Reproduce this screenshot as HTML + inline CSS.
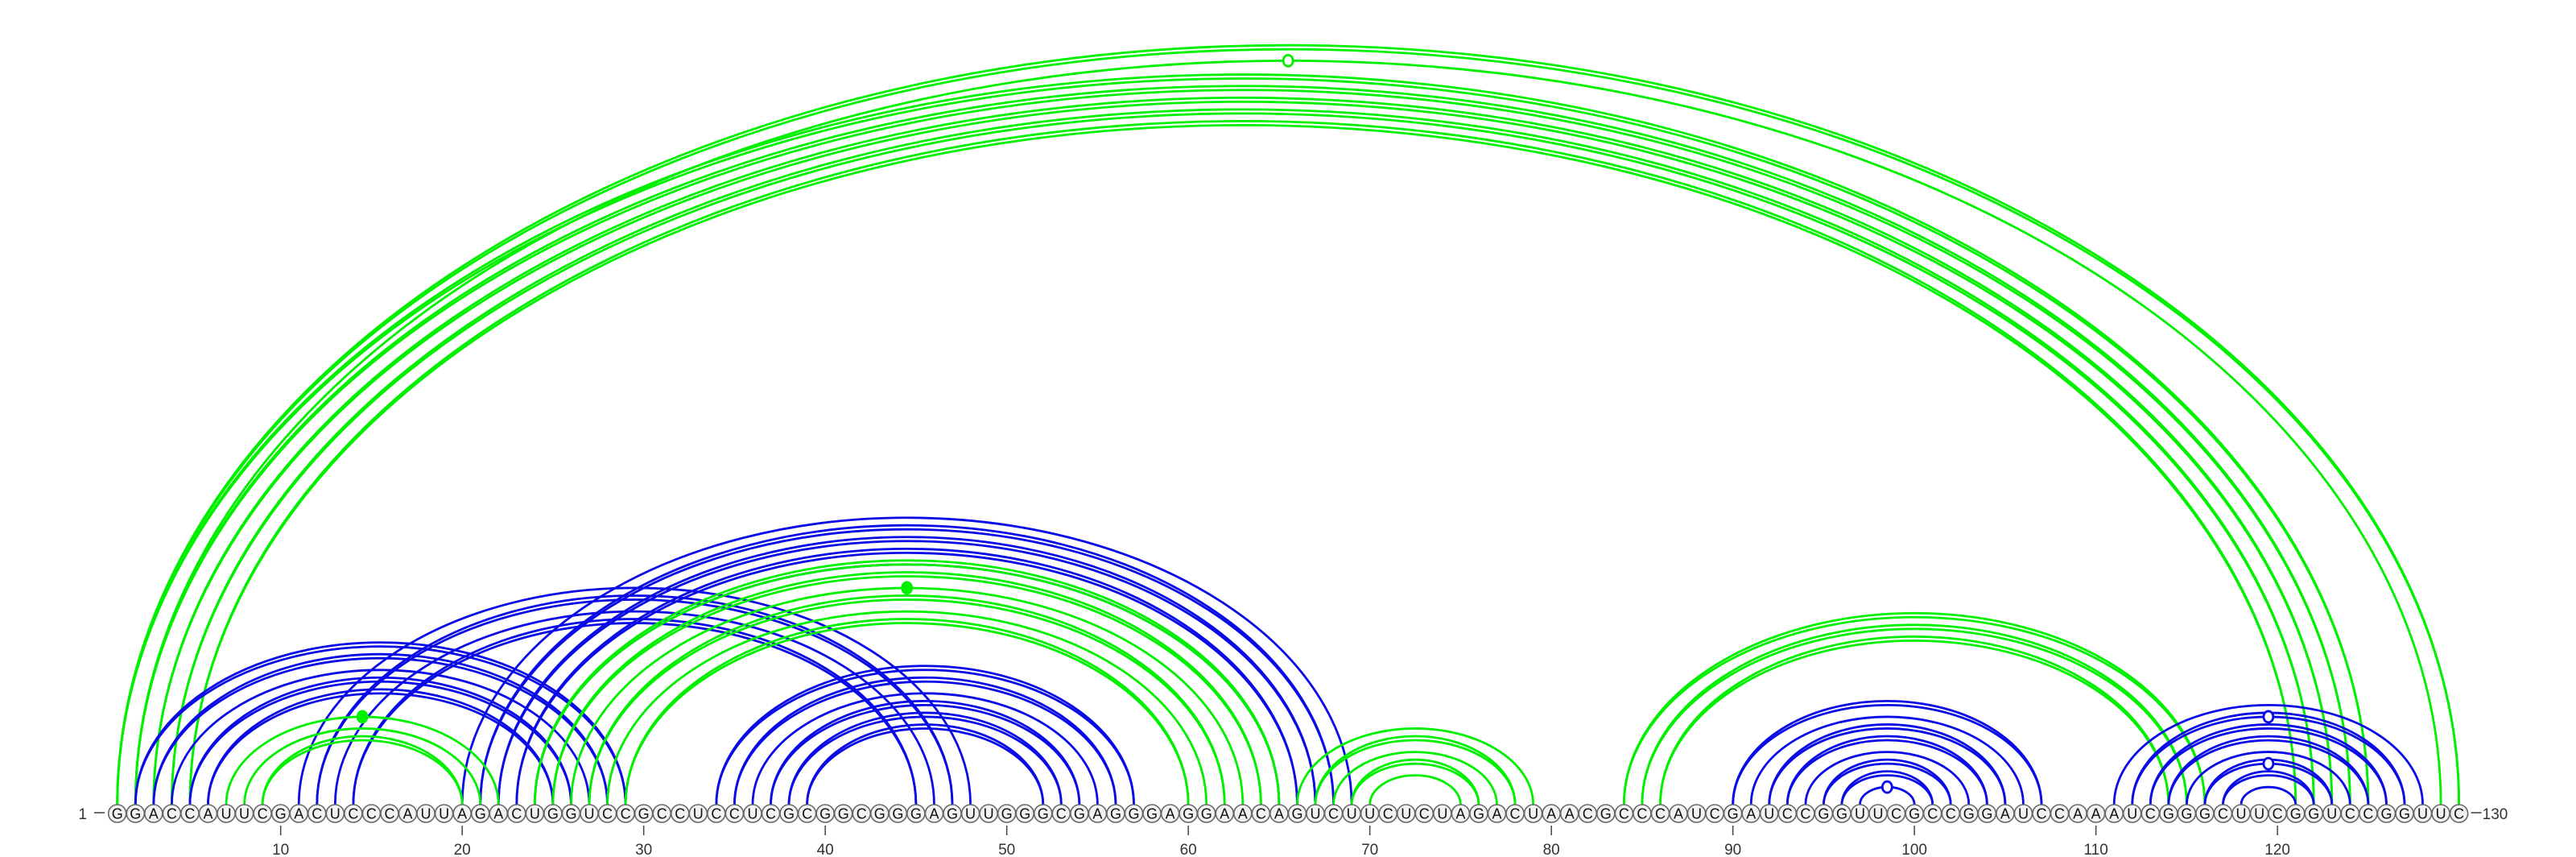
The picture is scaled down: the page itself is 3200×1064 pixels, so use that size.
<!DOCTYPE html>
<html><head><meta charset="utf-8"><style>
html,body{margin:0;padding:0;background:#fff;}
svg{display:block;}
text{font-family:"Liberation Sans","DejaVu Sans",sans-serif;}
</style></head><body>
<svg id="chart" width="3200" height="1064" viewBox="0 0 3200 1064" xmlns="http://www.w3.org/2000/svg">
<g id="arcs"></g>
<g id="seq"></g>
</svg>
<script>
const sequence = "GGACCAUUCGACUCCCAUUAGACUGGUCCGCCUCCUCGCGGCGGGAGUUGGGCGAGGGAGGAACAGUCUUCUCUAGACUAACGCCCAUCGAUCCGGUUCGCCGGAUCCAAAUCGGGCUUCGGUCCGGUUC";
const tickLabels = [10,20,30,40,50,60,70,80,90,100,110,120];
// pairs: start, end, color(0 blue / 1 green), doubled(0/1), marker(0 none / 1 open / 2 filled)
const pairStart = [1,2,1,2,3,4,5, 2,3,4,5,6, 11,12,13,14, 20,21,22,23,24, 34,35,36,37,38,39, 24,25,26,27,28,29, 7,8,9, 66,67,68,69,70, 84,85,86, 90,91,92,93,94,95,96,97, 111,112,113,114,115,116,117,118];
const pairEnd   = [130,129,125,124,123,122,121, 29,28,27,26,25, 48,47,46,45, 69,68,67,66,65, 57,56,55,54,53,52, 65,64,63,62,61,60, 22,21,20, 79,78,77,76,75, 116,115,114, 107,106,105,104,103,102,101,100, 128,127,126,125,124,123,122,121];
const pairColor = [1,1,1,1,1,1,1, 0,0,0,0,0, 0,0,0,0, 0,0,0,0,0, 0,0,0,0,0,0, 1,1,1,1,1,1, 1,1,1, 1,1,1,1,1, 1,1,1, 0,0,0,0,0,0,0,0, 0,0,0,0,0,0,0,0];
const pairDouble= [1,0,1,1,1,1,1, 1,1,0,1,1, 0,1,0,1, 0,1,1,1,0, 1,1,0,1,1,1, 1,1,0,1,0,1, 0,0,1, 0,1,0,1,0, 1,1,1, 1,0,1,1,0,1,1,0, 0,1,1,1,0,1,1,0];
const pairMarker= [0,1,0,0,0,0,0, 0,0,0,0,0, 0,0,0,0, 0,0,0,0,0, 0,0,0,0,0,0, 0,0,2,0,0,0, 2,0,0, 0,0,0,0,0, 0,0,0, 0,0,0,0,0,0,0,1, 0,1,0,0,0,1,0,0];

const NS="http://www.w3.org/2000/svg";
const x0=145.7, dx=22.55, cy=1010, baseY=999, ratio=0.645;
const xs = i => x0 + (i-1)*dx;
const hs = hw => hw*ratio;
const colors=["#0a0ae6","#00f000"];
const arcs=document.getElementById('arcs');
const seq=document.getElementById('seq');

for(let k=0;k<pairStart.length;k++){
  const a=xs(pairStart[k]), b=xs(pairEnd[k]);
  const hw=(b-a)/2, cx=(a+b)/2, h=hs(hw);
  const hList = pairDouble[k] ? [h, h+5] : [h];
  hList.forEach((hh,j)=>{
    const p=document.createElementNS(NS,'path');
    p.setAttribute('d',`M${a},${baseY} A${hw},${hh} 0 0 1 ${b},${baseY}`);
    p.setAttribute('fill','none');
    p.setAttribute('stroke',colors[pairColor[k]]);
    p.setAttribute('stroke-width','2.8');
    
    
    arcs.appendChild(p);
  });
  if(pairMarker[k]){
    const c=document.createElementNS(NS,'ellipse');
    c.setAttribute('cx',cx); c.setAttribute('cy',baseY-h);
    c.setAttribute('rx',6); c.setAttribute('ry',7);
    c.setAttribute('fill',pairMarker[k]===2?colors[pairColor[k]]:'#fff');
    c.setAttribute('stroke',colors[pairColor[k]]);
    c.setAttribute('stroke-width','2.8');
    
    
    arcs.appendChild(c);
  }
}

for(let i=1;i<=sequence.length;i++){
  const c=document.createElementNS(NS,'circle');
  c.setAttribute('cx',xs(i)); c.setAttribute('cy',cy); c.setAttribute('r',11);
  c.setAttribute('fill','#f2f2f2'); c.setAttribute('stroke','#666'); c.setAttribute('stroke-width','1.6');
  
  
  seq.appendChild(c);
  const t=document.createElementNS(NS,'text');
  t.setAttribute('x',xs(i)); t.setAttribute('y',cy+6.5);
  t.setAttribute('text-anchor','middle'); t.setAttribute('font-size','18'); t.setAttribute('fill','#111');
  t.textContent=sequence[i-1];
  
  
  seq.appendChild(t);
}
tickLabels.forEach(v=>{
  const l=document.createElementNS(NS,'line');
  l.setAttribute('x1',xs(v)); l.setAttribute('x2',xs(v));
  l.setAttribute('y1',1025); l.setAttribute('y2',1037);
  l.setAttribute('stroke','#444'); l.setAttribute('stroke-width','1.5');
  
  
  seq.appendChild(l);
  const t=document.createElementNS(NS,'text');
  t.setAttribute('x',xs(v)); t.setAttribute('y',1061);
  t.setAttribute('text-anchor','middle'); t.setAttribute('font-size','19'); t.setAttribute('fill','#333');
  t.textContent=v;
  
  
  seq.appendChild(t);
});
const startLbl=document.createElementNS(NS,'text');
startLbl.setAttribute('x',108); startLbl.setAttribute('y',1017);
startLbl.setAttribute('text-anchor','end'); startLbl.setAttribute('font-size','19'); startLbl.setAttribute('fill','#333');
startLbl.textContent='1';


seq.appendChild(startLbl);
const startDash=document.createElementNS(NS,'line');
startDash.setAttribute('x1',117); startDash.setAttribute('x2',130);
startDash.setAttribute('y1',1009); startDash.setAttribute('y2',1009);
startDash.setAttribute('stroke','#444'); startDash.setAttribute('stroke-width','1.6');


seq.appendChild(startDash);
const endX=xs(sequence.length);
const endDash=document.createElementNS(NS,'line');
endDash.setAttribute('x1',endX+15); endDash.setAttribute('x2',endX+28);
endDash.setAttribute('y1',1009); endDash.setAttribute('y2',1009);
endDash.setAttribute('stroke','#444'); endDash.setAttribute('stroke-width','1.6');


seq.appendChild(endDash);
const endLbl=document.createElementNS(NS,'text');
endLbl.setAttribute('x',endX+29); endLbl.setAttribute('y',1017);
endLbl.setAttribute('font-size','19'); endLbl.setAttribute('fill','#333');
endLbl.textContent=String(sequence.length);


seq.appendChild(endLbl);
</script>
</body></html>
